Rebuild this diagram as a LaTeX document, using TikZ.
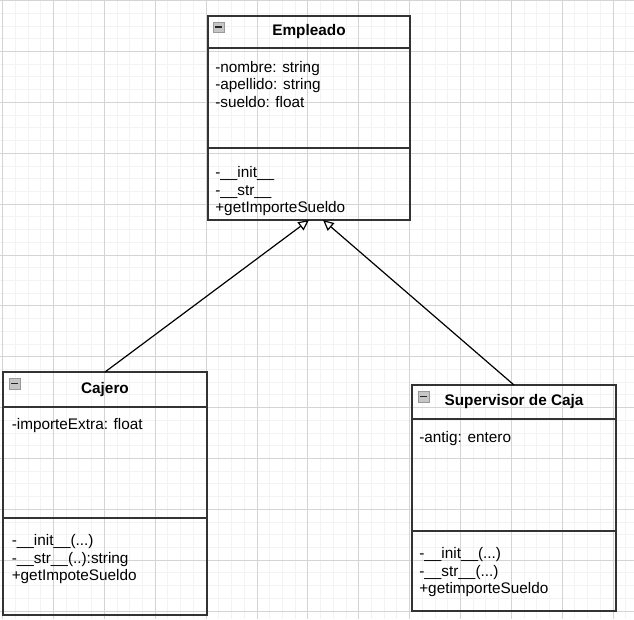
\documentclass[tikz,border=0pt]{standalone}
\usepackage{fontspec}
\setmainfont{Liberation Sans}
\usepackage{tikz}
\usetikzlibrary{arrows.meta, positioning, calc}
\definecolor{GridMajor}{HTML}{D4D4D4}
\definecolor{GridMinor}{HTML}{F3F3F3}
\definecolor{Border}{HTML}{333333}

\begin{document}
\begin{tikzpicture}
  [
    x=0.75pt, y=-0.75pt,
    font=\fontsize{11.5}{13.1}\selectfont,
    Part/.style={rectangle, draw=Border, line width=1pt, inner sep=0pt, outer sep=0pt},
    Head/.style={Part, font=\fontsize{11.5}{13.1}\selectfont\bfseries},
    Members/.style={anchor=north west, align=left, inner sep=0pt},
    Knob/.style={rectangle, anchor=north west, draw=gray!80, fill=gray!45, minimum size=8pt, inner sep=0pt,
      path picture={\draw[black!85, line width=1pt] ([xshift=1.4pt]path picture bounding box.west) -- ([xshift=-1.4pt]path picture bounding box.east);}},
    Link/.style={line width=0.9pt, -{Triangle[length=8pt, width=7.5pt, fill=white]}},
    Minor/.style={GridMinor, line width=0.75pt},
    Major/.style={GridMajor, line width=0.75pt}
  ]
  \useasboundingbox (0,0) rectangle (634,619);
  % Grid
  \foreach \i in {0,...,49} \draw[Minor] ({2.7+12.715*\i},0) -- ({2.7+12.715*\i},619);
  \foreach \i in {0,...,48} \draw[Minor] (0,{0.7+12.715*\i}) -- (634,{0.7+12.715*\i});
  \foreach \i in {0,...,12} {
    \draw[Major] ({2.7+50.86*\i},0) -- ({2.7+50.86*\i},619);
    \draw[Major] (0,{0.7+50.86*\i}) -- (634,{0.7+50.86*\i});
  }
  % Nodes
  \node[Head, anchor=north west, minimum width=151.5pt, minimum height=24pt] (empH) at (208,16) {Empleado};
  \node[Part, below=0pt of empH, minimum width=151.5pt, minimum height=75pt] (empA) {};
  \node[Part, below=0pt of empA, minimum width=151.5pt, minimum height=54pt] (empM) {};
  \node[Knob] (empK) at ($(empH.north west)+(5,5.5)$) {};
  \node[Members] (empAt) at ($(empA.north west)+(7,13)$) {-nombre: string\\-apellido: string\\-sueldo: float};
  \node[Members] (empMt) at ($(empM.north west)+(7,18.5)$) {-\_\_init\_\_\\-\_\_str\_\_\\+getImporteSueldo};

  \node[Head, anchor=north west, minimum width=153pt, minimum height=26.25pt] (cajH) at (3,372) {Cajero};
  \node[Part, below=0pt of cajH, minimum width=153pt, minimum height=83.25pt] (cajA) {};
  \node[Part, below=0pt of cajA, minimum width=153pt, minimum height=72.75pt] (cajM) {};
  \node[Knob] (cajK) at ($(cajH.north west)+(6,6)$) {};
  \node[Members] (cajAt) at ($(cajA.north west)+(8.5,11)$) {-importeExtra: float};
  \node[Members] (cajMt) at ($(cajM.north west)+(8.5,16.5)$) {-\_\_init\_\_(...)\\-\_\_str\_\_(..):string\\+getImpoteSueldo};

  \node[Head, anchor=north west, minimum width=153pt, minimum height=25.5pt] (supH) at (412,385) {Supervisor de Caja};
  \node[Part, below=0pt of supH, minimum width=153pt, minimum height=84pt] (supA) {};
  \node[Part, below=0pt of supA, minimum width=153pt, minimum height=60pt] (supM) {};
  \node[Knob] (supK) at ($(supH.north west)+(6,6)$) {};
  \node[Members] (supAt) at ($(supA.north west)+(7,12)$) {-antig: entero};
  \node[Members] (supMt) at ($(supM.north west)+(7,16.5)$) {-\_\_init\_\_(...)\\-\_\_str\_\_(...)\\+getimporteSueldo};
  % Lines
  \path [draw, Link] (cajH.north) -- (empM.south);
  \path [draw, Link] (supH.north) -- ($(empM.south)+(14,0)$);
\end{tikzpicture}
\end{document}
